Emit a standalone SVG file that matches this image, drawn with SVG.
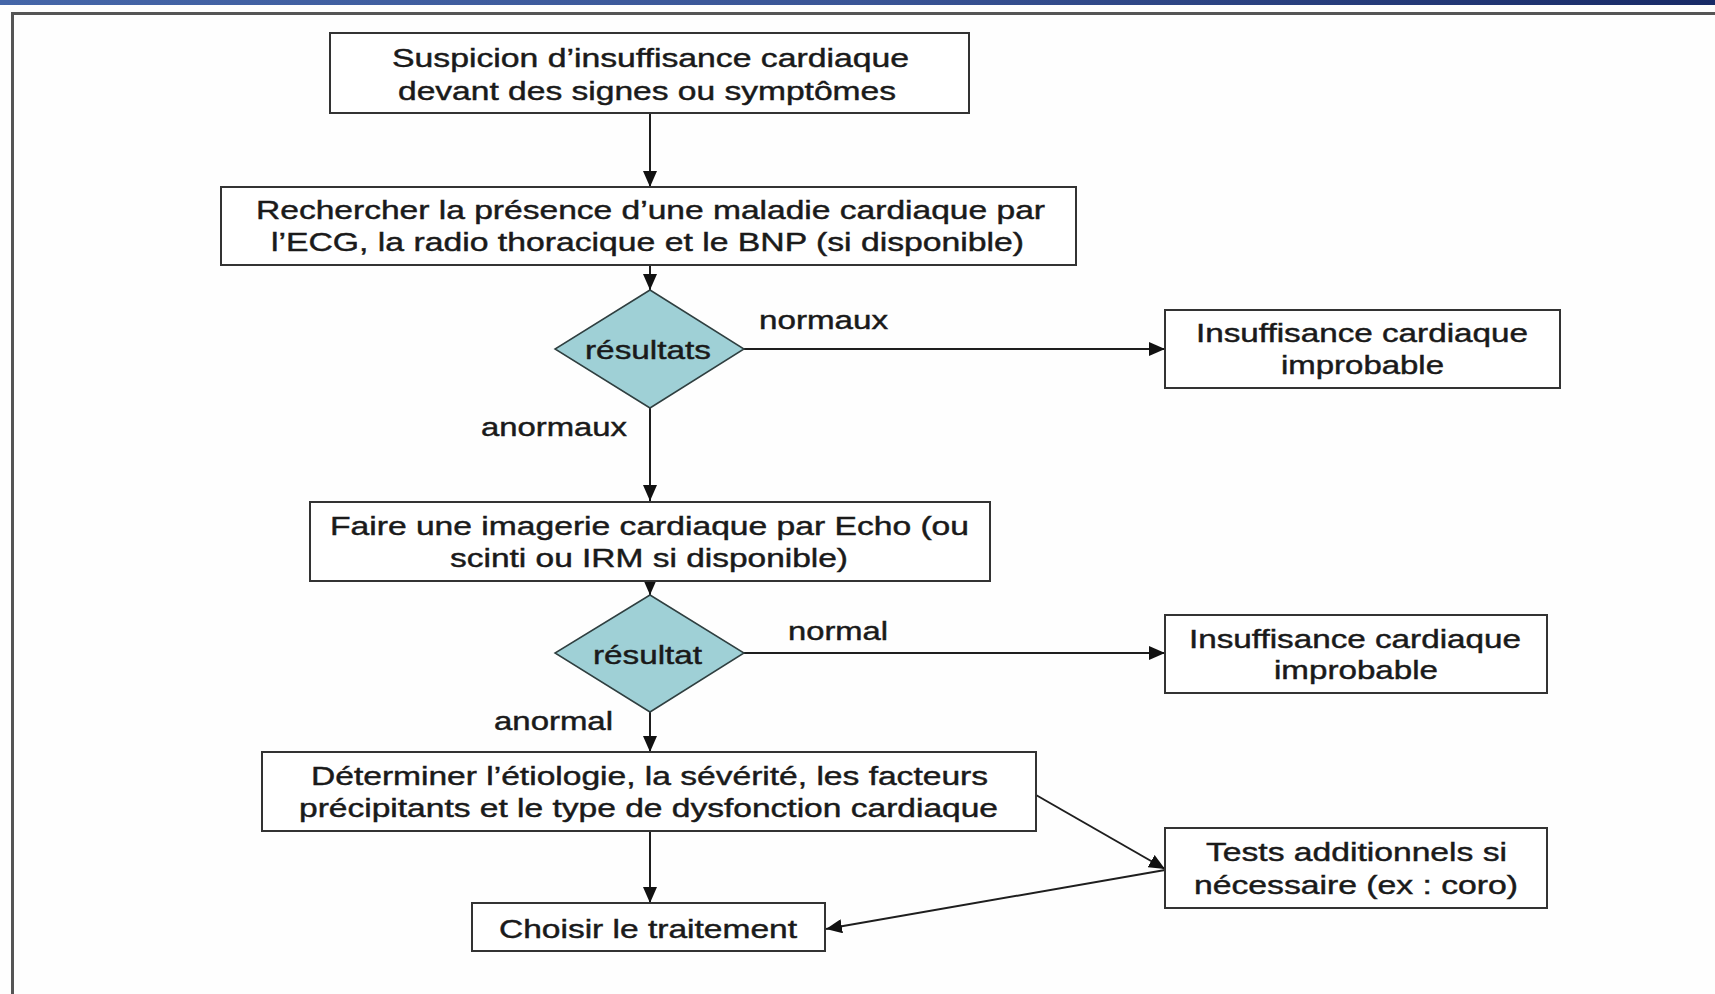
<svg xmlns="http://www.w3.org/2000/svg" width="1715" height="994" viewBox="0 0 1715 994">
<defs>
<linearGradient id="bar" x1="0" y1="0" x2="1" y2="0">
<stop offset="0" stop-color="#4566a8"/>
<stop offset="0.5" stop-color="#3a5596"/>
<stop offset="1" stop-color="#182a66"/>
</linearGradient>
<marker id="ah" viewBox="0 0 16 14" refX="16" refY="7" markerWidth="16" markerHeight="14" markerUnits="userSpaceOnUse" orient="auto">
<path d="M0,0 L16,7 L0,14 Z" fill="#111"/>
</marker>
<style>
.box{fill:#fff;stroke:#333;stroke-width:2}
.dia{fill:#9fd0d6;stroke:#2f3f40;stroke-width:1.5}
.t{font-family:"Liberation Sans",Arial,sans-serif;font-size:26px;fill:#1a1a1a;stroke:#1a1a1a;stroke-width:0.45px;transform:translateY(1.5px)}
.c{fill:none;stroke:#1e1e1e;stroke-width:2}
</style>
</defs>
<rect x="0" y="0" width="1715" height="994" fill="#fefefe"/>
<rect x="0" y="0" width="1715" height="5" fill="url(#bar)"/>
<path d="M12.5,994 V13.5 H1715" fill="none" stroke="#555" stroke-width="3"/>

<g id="connectors">
<line class="c" x1="650" y1="113" x2="650" y2="187" marker-end="url(#ah)"/>
<line class="c" x1="650" y1="265" x2="650" y2="290" marker-end="url(#ah)"/>
<line class="c" x1="744" y1="349" x2="1165" y2="349" marker-end="url(#ah)"/>
<line class="c" x1="650" y1="408" x2="650" y2="501" marker-end="url(#ah)"/>
<line class="c" x1="650" y1="581" x2="650" y2="595" marker-end="url(#ah)"/>
<line class="c" x1="744" y1="653" x2="1165" y2="653" marker-end="url(#ah)"/>
<line class="c" x1="650" y1="712" x2="650" y2="752" marker-end="url(#ah)"/>
<line class="c" x1="650" y1="831" x2="650" y2="903" marker-end="url(#ah)"/>
<line class="c" x1="1036" y1="795" x2="1165" y2="869" marker-end="url(#ah)"/>
<line class="c" x1="1165" y1="870" x2="826" y2="929" marker-end="url(#ah)"/>
<text class="t" x="759" y="327" textLength="129" lengthAdjust="spacingAndGlyphs">normaux</text>
<text class="t" x="481" y="434" textLength="146" lengthAdjust="spacingAndGlyphs">anormaux</text>
<text class="t" x="788" y="638" textLength="100" lengthAdjust="spacingAndGlyphs">normal</text>
<text class="t" x="494" y="728" textLength="119" lengthAdjust="spacingAndGlyphs">anormal</text>
</g>

<g id="n1">
<rect class="box" x="330" y="33" width="639" height="80"/>
<text class="t" x="392" y="65" textLength="517" lengthAdjust="spacingAndGlyphs">Suspicion d’insuffisance cardiaque</text>
<text class="t" x="398" y="98" textLength="498" lengthAdjust="spacingAndGlyphs">devant des signes ou symptômes</text>
</g>

<g id="n2">
<rect class="box" x="221" y="187" width="855" height="78"/>
<text class="t" x="256" y="217" textLength="789" lengthAdjust="spacingAndGlyphs">Rechercher la présence d’une maladie cardiaque par</text>
<text class="t" x="271" y="249" textLength="753" lengthAdjust="spacingAndGlyphs">l’ECG, la radio thoracique et le BNP (si disponible)</text>
</g>

<g id="d1">
<polygon class="dia" points="650,290 744,349 650,408 555,349"/>
<text class="t" x="585" y="357" textLength="126" lengthAdjust="spacingAndGlyphs">résultats</text>
</g>

<g id="n3">
<rect class="box" x="1165" y="310" width="395" height="78"/>
<text class="t" x="1196" y="340" textLength="332" lengthAdjust="spacingAndGlyphs">Insuffisance cardiaque</text>
<text class="t" x="1281" y="372" textLength="163" lengthAdjust="spacingAndGlyphs">improbable</text>
</g>

<g id="n4">
<rect class="box" x="310" y="502" width="680" height="79"/>
<text class="t" x="330" y="533" textLength="639" lengthAdjust="spacingAndGlyphs">Faire une imagerie cardiaque par Echo (ou</text>
<text class="t" x="450" y="565" textLength="398" lengthAdjust="spacingAndGlyphs">scinti ou IRM si disponible)</text>
</g>

<g id="d2">
<polygon class="dia" points="650,595 744,653 650,712 555,653"/>
<text class="t" x="593" y="662" textLength="109" lengthAdjust="spacingAndGlyphs">résultat</text>
</g>

<g id="n5">
<rect class="box" x="1165" y="615" width="382" height="78"/>
<text class="t" x="1189" y="646" textLength="332" lengthAdjust="spacingAndGlyphs">Insuffisance cardiaque</text>
<text class="t" x="1274" y="677" textLength="164" lengthAdjust="spacingAndGlyphs">improbable</text>
</g>

<g id="n6">
<rect class="box" x="262" y="752" width="774" height="79"/>
<text class="t" x="311" y="783" textLength="677" lengthAdjust="spacingAndGlyphs">Déterminer l’étiologie, la sévérité, les facteurs</text>
<text class="t" x="299" y="815" textLength="699" lengthAdjust="spacingAndGlyphs">précipitants et le type de dysfonction cardiaque</text>
</g>

<g id="n7">
<rect class="box" x="472" y="903" width="353" height="48"/>
<text class="t" x="499" y="936" textLength="298" lengthAdjust="spacingAndGlyphs">Choisir le traitement</text>
</g>

<g id="n8">
<rect class="box" x="1165" y="828" width="382" height="80"/>
<text class="t" x="1206" y="859" textLength="301" lengthAdjust="spacingAndGlyphs">Tests additionnels si</text>
<text class="t" x="1194" y="892" textLength="324" lengthAdjust="spacingAndGlyphs">nécessaire (ex : coro)</text>
</g>
</svg>
